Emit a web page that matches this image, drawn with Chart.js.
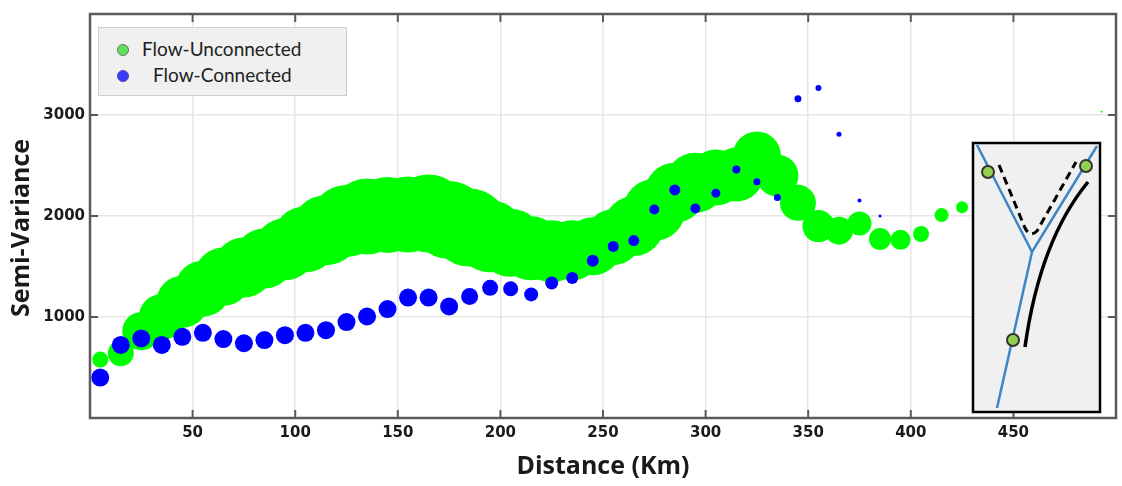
<!DOCTYPE html>
<html>
<head>
<meta charset="utf-8">
<script src="https://cdn.jsdelivr.net/npm/chart.js@4.4.1/dist/chart.umd.min.js"></script>
<style>
  html, body { margin: 0; padding: 0; background: #fff; }
  #wrap { position: relative; width: 1122px; height: 486px; }
  #legend {
    position: absolute; left: 98px; top: 27px; width: 247px; height: 67px;
    background: #f0f0f0; border: 1px solid #cfcfcf;
    font-family: Lato, "Open Sans", sans-serif; font-size: 19px; color: #222;
  }
  .row { position: absolute; left: 0; height: 20px; line-height: 20px; white-space: nowrap; }
  .dot { position: absolute; width: 10px; height: 10px; border-radius: 50%; top: 5px; left: 18px; }
</style>
</head>
<body>
<div id="wrap">
  <canvas id="semiChart" width="1122" height="486"></canvas>
  <div id="legend">
    <div class="row" style="top:11px; width:247px;">
      <span class="dot" style="background:#5de05d; border:1px solid #6a7a6a;"></span>
      <span style="position:absolute; left:43px;">Flow-Unconnected</span>
    </div>
    <div class="row" style="top:37px; width:247px;">
      <span class="dot" style="background:#3c3cff; border:1px solid #4a4a9a;"></span>
      <span style="position:absolute; left:54px;">Flow-Connected</span>
    </div>
  </div>
</div>
<script>
// distances (km) and values
const unconnDist = [5, 15, 25, 35, 45, 55, 65, 75, 85, 95, 105, 115, 125, 135, 145, 155, 165, 175, 185, 195,
  205, 215, 225, 235, 245, 255, 265, 275, 285, 295, 305, 315, 325, 335, 345, 355, 365, 375, 385, 395,
  405, 415, 425, 493];
const unconnVal = [578, 640, 860, 1000, 1150, 1280, 1400, 1490, 1580, 1670, 1770, 1860, 1950, 1995, 2010, 2015, 2025, 1960, 1885, 1800,
  1735, 1680, 1650, 1660, 1700, 1790, 1900, 2060, 2230, 2330, 2380, 2410, 2600, 2400, 2130, 1900, 1855, 1925, 1773, 1764,
  1822, 2009, 2086, 3033];
const unconnSize = [8, 13, 19, 23, 26, 28, 29, 30, 30, 31, 33, 35, 36, 38, 38, 38, 39, 39, 39, 36,
  34, 32, 31, 30, 29, 28, 30, 31, 30, 30, 28, 27, 24, 21, 18, 16, 14, 12, 11, 10,
  8, 7, 6, 1];

const connDist = [5, 15, 25, 35, 45, 55, 65, 75, 85, 95, 105, 115, 125, 135, 145, 155, 165, 175, 185, 195,
  205, 215, 225, 235, 245, 255, 265, 275, 285, 295, 305, 315, 325, 335, 345, 355, 365, 375, 385];
const connVal = [400, 724, 788, 724, 804, 843, 782, 740, 772, 820, 843, 869, 950, 1005, 1078, 1192, 1192, 1105, 1202, 1289,
  1279, 1224, 1337, 1386, 1557, 1699, 1757, 2064, 2258, 2074, 2226, 2461, 2338, 2183, 3162, 3268, 2810, 2154, 1999];
const connSize = [9, 9, 9, 9, 9, 9, 9, 9, 9, 9, 9, 9, 9, 9, 9, 9, 9, 9, 8.5, 8,
  7.5, 7, 6.5, 6, 6, 5.5, 5.5, 5, 5.5, 5, 4.5, 4, 3.5, 3.5, 3.5, 3, 2.5, 2, 1.5];

const xTicks = [50, 100, 150, 200, 250, 300, 350, 400, 450];
const yTicks = [1000, 2000, 3000];

function toPoints(xs, ys, rs) {
    return xs.map((x, i) => ({ x: x, y: ys[i], r: rs[i] }));
}

const axisColor = '#5a5a5a';

// frame with inward ticks, y title and the little river sketch
const framePlugin = {
    id: 'frame',
    afterDraw(chart) {
        const ctx = chart.ctx;
        const a = chart.chartArea;
        const xs = chart.scales.x, ys = chart.scales.y;
        ctx.save();
        ctx.strokeStyle = axisColor;
        ctx.lineWidth = 2.5;
        ctx.strokeRect(a.left, a.top, a.right - a.left, a.bottom - a.top);
        ctx.lineWidth = 2;
        xTicks.forEach(v => {
            const px = xs.getPixelForValue(v);
            ctx.beginPath();
            ctx.moveTo(px, a.bottom); ctx.lineTo(px, a.bottom - 8);
            ctx.moveTo(px, a.top); ctx.lineTo(px, a.top + 8);
            ctx.stroke();
        });
        yTicks.forEach(v => {
            const py = ys.getPixelForValue(v);
            ctx.beginPath();
            ctx.moveTo(a.left, py); ctx.lineTo(a.left + 8, py);
            ctx.moveTo(a.right, py); ctx.lineTo(a.right - 8, py);
            ctx.stroke();
        });

        // y axis title
        ctx.fillStyle = '#1a1a1a';
        ctx.font = 'bold 25px "Open Sans"';
        ctx.textAlign = 'center';
        ctx.textBaseline = 'middle';
        ctx.translate(22, 228);
        ctx.rotate(-Math.PI / 2);
        ctx.fillText('Semi-Variance', 0, 0);
        ctx.restore();

        // inset sketch
        ctx.save();
        ctx.fillStyle = '#f0f0f0';
        ctx.fillRect(973, 143, 127, 269);
        ctx.strokeStyle = '#000';
        ctx.lineWidth = 2.5;
        ctx.strokeRect(973, 143, 127, 269);

        ctx.strokeStyle = '#3d85c6';
        ctx.lineWidth = 2.5;
        ctx.beginPath();
        ctx.moveTo(977, 145); ctx.lineTo(1032, 252);
        ctx.lineTo(1097, 146);
        ctx.moveTo(1032, 252); ctx.lineTo(997, 408);
        ctx.stroke();

        ctx.strokeStyle = '#000';
        ctx.lineWidth = 3;
        ctx.setLineDash([8, 5]);
        ctx.beginPath();
        ctx.moveTo(999, 165); ctx.lineTo(1025, 228);
        ctx.quadraticCurveTo(1030, 238, 1037, 231);
        ctx.lineTo(1076, 162);
        ctx.stroke();
        ctx.setLineDash([]);

        ctx.lineWidth = 3.5;
        ctx.beginPath();
        ctx.moveTo(1088, 182);
        ctx.quadraticCurveTo(1040, 240, 1025, 347);
        ctx.stroke();

        ctx.fillStyle = '#92d050';
        ctx.strokeStyle = '#333';
        ctx.lineWidth = 2;
        [[988, 172], [1086, 166], [1013, 340]].forEach(p => {
            ctx.beginPath();
            ctx.arc(p[0], p[1], 6, 0, Math.PI * 2);
            ctx.fill();
            ctx.stroke();
        });
        ctx.restore();
    }
};

const ctx = document.getElementById('semiChart').getContext('2d');
new Chart(ctx, {
    type: 'bubble',
    data: {
        datasets: [
            {
                label: 'Flow-Connected',
                data: toPoints(connDist, connVal, connSize),
                backgroundColor: '#0000ff',
                borderWidth: 0,
                order: 0
            },
            {
                label: 'Flow-Unconnected',
                data: toPoints(unconnDist, unconnVal, unconnSize),
                backgroundColor: '#00ff00',
                borderWidth: 0,
                order: 1
            }
        ]
    },
    options: {
        responsive: false,
        animation: false,
        events: [],
        layout: { autoPadding: false, padding: { top: 5, right: 1, left: 0, bottom: 0 } },
        plugins: {
            legend: { display: false },
            tooltip: { enabled: false }
        },
        scales: {
            x: {
                type: 'linear',
                min: 0,
                max: 500,
                afterFit: function (scale) { scale.height = 68; },
                border: { display: false },
                grid: { color: '#e6e6e6', lineWidth: 1.5, drawTicks: false },
                ticks: {
                    stepSize: 50,
                    padding: 6,
                    color: '#1a1a1a',
                    font: { family: 'DejaVu Sans', size: 15, weight: 'bold' },
                    callback: v => (v > 0 && v < 500 ? v : '')
                },
                title: {
                    display: true,
                    text: 'Distance (Km)',
                    color: '#1a1a1a',
                    font: { family: 'Open Sans', size: 25, weight: 'bold' },
                    padding: { top: 0, bottom: 4 }
                }
            },
            y: {
                min: 0,
                max: 4000,
                afterFit: function (scale) { scale.width = 90; },
                border: { display: false },
                grid: { color: '#e6e6e6', lineWidth: 1.5, drawTicks: false },
                ticks: {
                    stepSize: 1000,
                    padding: 5,
                    color: '#1a1a1a',
                    font: { family: 'DejaVu Sans', size: 15, weight: 'bold' },
                    callback: v => (v > 0 && v < 4000 ? v : '')
                }
            }
        }
    },
    plugins: [framePlugin]
});
</script>
</body>
</html>
